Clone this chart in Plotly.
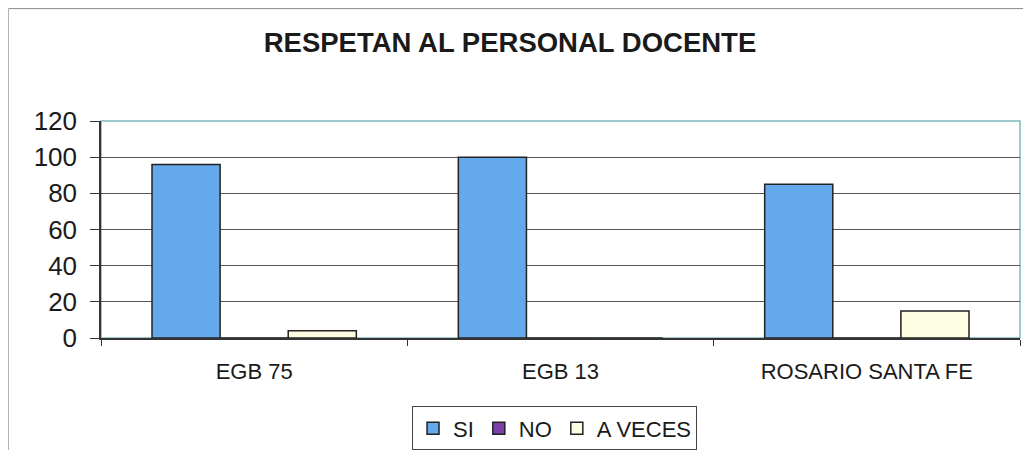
import plotly.graph_objects as go

# Data
categories = ["EGB 75", "EGB 13", "ROSARIO SANTA FE"]
si = [96, 100, 85]
no = [0, 0, 0]
a_veces = [4, 0, 15]
y_ticks = [0, 20, 40, 60, 80, 100, 120]

fig = go.Figure()
fig.add_trace(go.Bar(name="SI", x=categories, y=si,
                     marker=dict(color="#63a9ec", line=dict(color="#222222", width=1.5))))
fig.add_trace(go.Bar(name="NO", x=categories, y=no,
                     marker=dict(color="#7a3fa8", line=dict(color="#222222", width=1.5))))
fig.add_trace(go.Bar(name="A VECES", x=categories, y=a_veces,
                     marker=dict(color="#fdfde2", line=dict(color="#222222", width=1.5))))

# plot area frame (teal top/right)
fig.add_shape(type="rect", xref="x domain", yref="y domain", x0=0, x1=1, y0=0, y1=1,
              line=dict(color="#7fb8bc", width=1.5), layer="below")
# outer border of the picture: top and left edges only
fig.add_shape(type="line", xref="paper", yref="paper", x0=-0.1007, x1=1.02, y0=1.518, y1=1.518,
              line=dict(color="#8a8a8a", width=1))
fig.add_shape(type="line", xref="paper", yref="paper", x0=-0.1007, x1=-0.1007, y0=1.518, y1=-0.52,
              line=dict(color="#b0b0b0", width=1))

# page body has an 8px margin, so the figure is 8px smaller than the window
fig.update_layout(
    width=1023, height=442,
    margin=dict(l=93, r=11, t=113, b=112, autoexpand=False),
    paper_bgcolor="white", plot_bgcolor="white",
    font=dict(family="Arial, Liberation Sans, sans-serif", color="#1a1a1a"),
    title=dict(text="<b>RESPETAN AL PERSONAL DOCENTE</b>", x=0.4907, xanchor="center",
               y=0.922, yanchor="middle", font=dict(size=27.5)),
    barmode="group", bargap=0.333, bargroupgap=0,
    showlegend=True,
    legend=dict(orientation="h", x=0.4935, xanchor="center", y=-0.417, yanchor="middle",
                font=dict(size=22), bordercolor="#444444", borderwidth=1,
                itemwidth=30, tracegroupgap=0),
)
fig.update_xaxes(showline=True, linecolor="#333333", linewidth=1.5,
                 ticks="outside", tickson="boundaries", ticklen=6, tickcolor="#333333",
                 tickfont=dict(size=22), ticklabelstandoff=13, showgrid=False)
fig.update_yaxes(range=[0, 120], tickvals=y_ticks, showline=True, linecolor="#333333",
                 linewidth=1.5, ticks="outside", ticklen=9, tickcolor="#333333",
                 tickfont=dict(size=26), ticklabelstandoff=8, showgrid=True,
                 gridcolor="#555555", gridwidth=1, zeroline=False)

fig.write_html("out.html")
